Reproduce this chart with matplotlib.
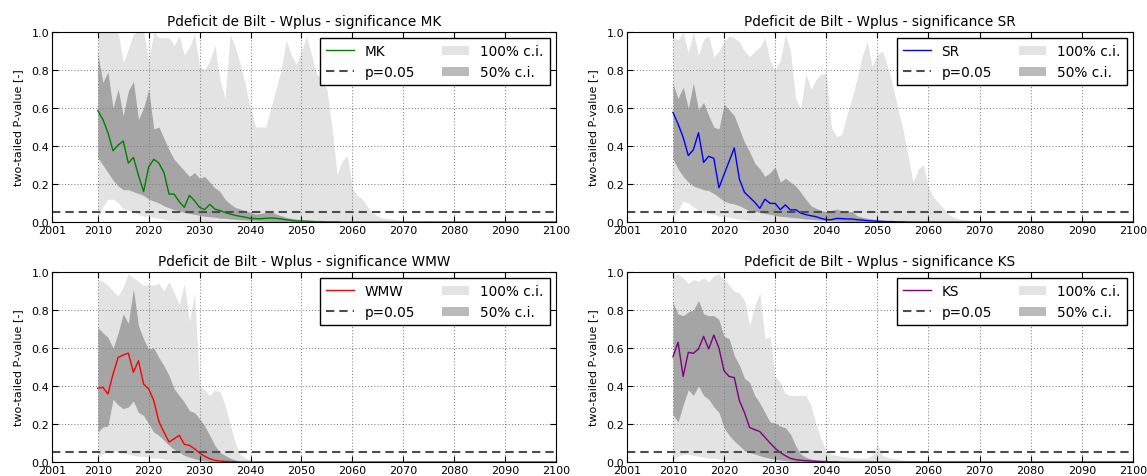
import numpy as np
import matplotlib
matplotlib.use('Agg')
import matplotlib.pyplot as plt
from matplotlib.patches import Patch
from matplotlib.lines import Line2D

# years 2010..2100, values (2010 onwards, rest is zero)
years = np.arange(2010, 2101)

def tail(v):
    return np.array(v + [0.0] * (len(years) - len(v)))

# MK
mk_line = tail([0.586, 0.54, 0.47, 0.375, 0.405, 0.426, 0.31, 0.34, 0.245, 0.16,
                0.29, 0.33, 0.31, 0.26, 0.147, 0.147, 0.107, 0.077, 0.14, 0.112,
                0.077, 0.065, 0.093, 0.068, 0.06, 0.05, 0.042, 0.035, 0.03, 0.025,
                0.019, 0.018, 0.017, 0.02, 0.021, 0.02, 0.016, 0.012, 0.008, 0.005,
                0.005, 0.004, 0.003, 0.002, 0.002, 0.001, 0.001, 0.001])
mk_hi100 = tail([1.0, 1.0, 1.0, 1.0, 1.0, 0.84, 0.91, 0.99, 1.0, 1.0,
                 0.85, 1.0, 0.97, 0.97, 0.97, 0.93, 0.98, 0.88, 0.92, 0.99,
                 0.82, 0.80, 0.85, 0.93, 0.75, 0.65, 0.99, 0.92, 0.83, 0.72,
                 0.6, 0.5, 0.5, 0.5, 0.6, 0.7, 0.8, 0.96, 0.88, 0.83,
                 0.9, 0.98, 0.88, 0.78, 0.75, 0.7, 0.5, 0.25, 0.32, 0.35,
                 0.18, 0.14, 0.12, 0.08, 0.05, 0.03, 0.02, 0.02, 0.015, 0.01, 0.005])
mk_lo100 = tail([0.02, 0.08, 0.12, 0.12, 0.1, 0.07, 0.06, 0.05, 0.04, 0.03,
                 0.03, 0.025, 0.02, 0.015, 0.01, 0.01, 0.008, 0.006, 0.005, 0.004,
                 0.003, 0.002, 0.002, 0.001, 0.001])
mk_hi50 = tail([0.89, 0.735, 0.79, 0.6, 0.7, 0.56, 0.69, 0.74, 0.54, 0.6,
                0.7, 0.49, 0.5, 0.44, 0.38, 0.33, 0.3, 0.27, 0.24, 0.26,
                0.23, 0.24, 0.21, 0.18, 0.16, 0.12, 0.095, 0.077, 0.068, 0.06,
                0.05, 0.042, 0.045, 0.05, 0.054, 0.042, 0.033, 0.025, 0.02, 0.016,
                0.012, 0.01, 0.008, 0.006, 0.004, 0.003, 0.002, 0.001, 0.001])
mk_lo50 = tail([0.34, 0.3, 0.26, 0.22, 0.19, 0.17, 0.17, 0.16, 0.15, 0.14,
                0.12, 0.11, 0.1, 0.085, 0.075, 0.065, 0.06, 0.05, 0.045, 0.04,
                0.035, 0.03, 0.028, 0.025, 0.02, 0.02, 0.016, 0.014, 0.012, 0.01,
                0.008, 0.006, 0.005, 0.004, 0.003, 0.002, 0.001])

# SR
sr_line = tail([0.577, 0.516, 0.446, 0.35, 0.38, 0.47, 0.314, 0.346, 0.335, 0.18,
                0.25, 0.32, 0.39, 0.226, 0.156, 0.13, 0.104, 0.072, 0.12, 0.098,
                0.098, 0.065, 0.09, 0.063, 0.065, 0.047, 0.039, 0.033, 0.028, 0.019,
                0.012, 0.012, 0.019, 0.018, 0.016, 0.016, 0.012, 0.01, 0.007, 0.005,
                0.004, 0.003, 0.002, 0.002, 0.001, 0.001])
sr_hi100 = tail([0.97, 0.96, 1.0, 0.89, 1.0, 0.88, 0.96, 0.98, 0.87, 0.9,
                 0.95, 0.98, 0.97, 0.95, 0.9, 0.87, 0.9, 0.92, 0.97, 0.85,
                 0.8, 0.85, 0.99, 0.9, 0.65, 0.6, 0.78, 0.7, 0.75, 0.78,
                 0.78, 0.5, 0.45, 0.46, 0.56, 0.65, 0.75, 0.87, 0.95, 0.82,
                 0.88, 0.9, 0.82, 0.72, 0.6, 0.49, 0.35, 0.21, 0.28, 0.3,
                 0.18, 0.13, 0.1, 0.07, 0.04, 0.025, 0.015, 0.012, 0.01, 0.008, 0.003])
sr_lo100 = tail([0.015, 0.06, 0.11, 0.1, 0.08, 0.06, 0.05, 0.045, 0.04, 0.03,
                 0.03, 0.025, 0.02, 0.015, 0.012, 0.01, 0.008, 0.006, 0.005, 0.004,
                 0.003, 0.002, 0.002, 0.001, 0.001])
sr_hi50 = tail([0.73, 0.65, 0.71, 0.6, 0.73, 0.59, 0.63, 0.56, 0.5, 0.49,
                0.62, 0.59, 0.56, 0.49, 0.42, 0.37, 0.31, 0.28, 0.24, 0.26,
                0.29, 0.21, 0.23, 0.21, 0.19, 0.156, 0.12, 0.086, 0.072, 0.06,
                0.054, 0.06, 0.068, 0.06, 0.05, 0.056, 0.033, 0.025, 0.02, 0.016,
                0.012, 0.01, 0.008, 0.006, 0.004, 0.003, 0.002, 0.001, 0.001])
sr_lo50 = tail([0.33, 0.28, 0.24, 0.21, 0.19, 0.18, 0.17, 0.165, 0.15, 0.13,
                0.11, 0.1, 0.095, 0.086, 0.072, 0.06, 0.055, 0.05, 0.045, 0.04,
                0.035, 0.03, 0.028, 0.025, 0.022, 0.02, 0.016, 0.014, 0.012, 0.01,
                0.008, 0.006, 0.005, 0.004, 0.003, 0.002, 0.001])

# WMW
wmw_line = tail([0.388, 0.393, 0.358, 0.463, 0.55, 0.563, 0.573, 0.472, 0.533, 0.41,
                 0.385, 0.323, 0.213, 0.157, 0.105, 0.122, 0.14, 0.093, 0.087, 0.07,
                 0.047, 0.03, 0.017, 0.009, 0.005, 0.003, 0.002, 0.001])
wmw_hi100 = tail([0.96, 0.95, 0.93, 0.9, 0.875, 0.92, 0.99, 0.97, 0.95, 0.93,
                  0.935, 0.93, 0.94, 0.9, 0.95, 0.89, 0.83, 0.94, 0.74, 0.89,
                  0.4, 0.38, 0.35, 0.38, 0.37, 0.3, 0.2, 0.1, 0.04, 0.02,
                  0.01, 0.005])
wmw_lo100 = tail([0.02, 0.04, 0.06, 0.06, 0.05, 0.045, 0.04, 0.035, 0.03, 0.03,
                  0.025, 0.02, 0.02, 0.015, 0.012, 0.01, 0.008, 0.006, 0.005, 0.004,
                  0.003, 0.002])
wmw_hi50 = tail([0.708, 0.68, 0.656, 0.6, 0.68, 0.78, 0.73, 0.91, 0.717, 0.647,
                 0.594, 0.6, 0.55, 0.507, 0.455, 0.385, 0.35, 0.315, 0.27, 0.26,
                 0.227, 0.19, 0.14, 0.087, 0.05, 0.035, 0.02, 0.01, 0.005, 0.002])
wmw_lo50 = tail([0.157, 0.184, 0.19, 0.33, 0.3, 0.28, 0.29, 0.32, 0.26, 0.245,
                 0.2, 0.157, 0.14, 0.114, 0.087, 0.066, 0.052, 0.035, 0.026, 0.017,
                 0.01, 0.006, 0.003, 0.001])

# KS
ks_line = tail([0.554, 0.63, 0.45, 0.577, 0.572, 0.595, 0.661, 0.595, 0.668, 0.6,
                0.48, 0.45, 0.444, 0.323, 0.26, 0.182, 0.17, 0.16, 0.13, 0.1,
                0.072, 0.05, 0.033, 0.019, 0.012, 0.009, 0.007, 0.005, 0.004, 0.003,
                0.002, 0.001, 0.001])
ks_hi100 = tail([0.98, 0.99, 0.97, 0.94, 0.96, 0.95, 0.97, 0.95, 0.98, 0.99,
                 0.96, 0.93, 0.9, 0.89, 0.85, 0.72, 0.82, 0.89, 0.65, 0.66,
                 0.45, 0.42, 0.36, 0.35, 0.35, 0.35, 0.35, 0.3, 0.2, 0.12,
                 0.06, 0.04, 0.035, 0.03, 0.025, 0.022, 0.02, 0.02, 0.02, 0.035,
                 0.095, 0.035, 0.025, 0.02, 0.015, 0.01, 0.008, 0.005, 0.004, 0.003,
                 0.002])
ks_lo100 = tail([0.015, 0.03, 0.04, 0.04, 0.035, 0.03, 0.025, 0.02, 0.02, 0.015,
                 0.012, 0.01, 0.008, 0.006, 0.005, 0.004, 0.003, 0.002, 0.001])
ks_hi50 = tail([0.84, 0.78, 0.77, 0.79, 0.8, 0.85, 0.78, 0.77, 0.77, 0.75,
                0.66, 0.65, 0.56, 0.51, 0.44, 0.42, 0.35, 0.31, 0.26, 0.21,
                0.205, 0.19, 0.18, 0.147, 0.086, 0.042, 0.025, 0.016, 0.01, 0.007,
                0.005, 0.003, 0.002])
ks_lo50 = tail([0.25, 0.21, 0.3, 0.38, 0.35, 0.4, 0.35, 0.33, 0.29, 0.26,
                0.18, 0.14, 0.11, 0.086, 0.06, 0.05, 0.042, 0.033, 0.025, 0.019,
                0.014, 0.01, 0.007, 0.005, 0.003, 0.002, 0.001])

xticks = [2001, 2010, 2020, 2030, 2040, 2050, 2060, 2070, 2080, 2090, 2100]
p_crit = 0.05

panels = [
    ('MK', 'green', mk_line, mk_lo100, mk_hi100, mk_lo50, mk_hi50, [0.0453, 0.5325, 0.4394, 0.3983]),
    ('SR', 'blue', sr_line, sr_lo100, sr_hi100, sr_lo50, sr_hi50, [0.5466, 0.5325, 0.4411, 0.3983]),
    ('WMW', 'red', wmw_line, wmw_lo100, wmw_hi100, wmw_lo50, wmw_hi50, [0.0453, 0.0294, 0.4394, 0.3983]),
    ('KS', 'purple', ks_line, ks_lo100, ks_hi100, ks_lo50, ks_hi50, [0.5466, 0.0294, 0.4411, 0.3983]),
]

dash = (4, 2.4)

fig = plt.figure(figsize=(11.47, 4.77), dpi=100)
for name, col, line, lo100, hi100, lo50, hi50, pos in panels:
    ax = fig.add_axes(pos)
    ax.fill_between(years, lo100, hi100, color='k', alpha=0.11, lw=0)
    ax.fill_between(years, lo50, hi50, color='k', alpha=0.27, lw=0)
    ax.plot(years, line, color=col, lw=1)
    ax.axhline(p_crit, color='0.3', lw=1.5, dashes=dash)
    ax.set_xlim(2001, 2100)
    ax.set_ylim(0, 1)
    ax.set_xticks(xticks)
    ax.set_yticks([0.0, 0.2, 0.4, 0.6, 0.8, 1.0])
    ax.set_yticklabels(['0.0', '0.2', '0.4', '0.6', '0.8', '1.0'])
    ax.tick_params(direction='in', top=True, right=True, labelsize=8, pad=2, length=4)
    ax.grid(True, color='0.5', ls=(0, (1, 2)), lw=0.75)
    ax.set_ylabel('two-tailed P-value [-]', fontsize=8, labelpad=6)
    ax.set_title('Pdeficit de Bilt - Wplus - significance ' + name, fontsize=9.8, pad=5)
    handles = [Line2D([], [], color=col, lw=1),
               Line2D([], [], color='0.3', lw=1.5, dashes=dash),
               Patch(facecolor='k', alpha=0.11, lw=0),
               Patch(facecolor='k', alpha=0.27, lw=0)]
    leg = ax.legend(handles, [name, 'p=0.05', '100% c.i.', '50% c.i.'], ncol=2,
                    loc='upper right', fontsize=9.8, fancybox=False, framealpha=1,
                    edgecolor='k', borderaxespad=0.45, columnspacing=2.0,
                    handlelength=2.0, borderpad=0.45, labelspacing=0.5)
    leg.get_frame().set_linewidth(1)

fig.savefig('out.png', dpi=100)
